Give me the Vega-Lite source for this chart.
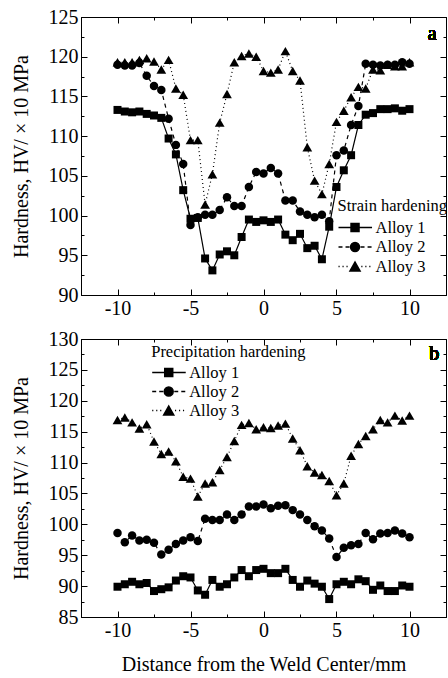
{
"$schema": "https://vega.github.io/schema/vega-lite/v6.json",
"padding": {"left": 10, "top": 6, "right": 0, "bottom": 0},
"background": "white",
"spacing": 6,
"config": {
  "font": "Liberation Serif",
  "view": {"stroke": "black", "strokeWidth": 1},
  "axis": {"domainColor": "black", "tickColor": "black", "labelColor": "black", "titleColor": "black", "labelFont": "Liberation Serif", "titleFont": "Liberation Serif", "labelFontSize": 20, "titleFontSize": 20, "titleFontWeight": "normal", "grid": false, "tickWidth": 1, "domainWidth": 1, "labelFlush": false, "labelOverlap": false},
  "legend": {"labelFont": "Liberation Serif", "titleFont": "Liberation Serif", "labelFontSize": 16.5, "titleFontSize": 16.5, "titleFontWeight": "normal", "labelColor": "black", "titleColor": "black"}
},
"resolve": {"scale": {"shape": "independent"}, "legend": {"shape": "independent"}},
"data": {"values": [
{"p":"a","s":"Alloy 1","x":-10,"y":113.3},{"p":"a","s":"Alloy 1","x":-9.5,"y":113.1},{"p":"a","s":"Alloy 1","x":-9,"y":113.0},{"p":"a","s":"Alloy 1","x":-8.5,"y":113.1},{"p":"a","s":"Alloy 1","x":-8,"y":112.8},{"p":"a","s":"Alloy 1","x":-7.5,"y":112.6},{"p":"a","s":"Alloy 1","x":-7,"y":112.3},{"p":"a","s":"Alloy 1","x":-6.5,"y":109.7},{"p":"a","s":"Alloy 1","x":-6,"y":107.7},{"p":"a","s":"Alloy 1","x":-5.5,"y":103.2},
{"p":"a","s":"Alloy 1","x":-5,"y":99.6},{"p":"a","s":"Alloy 1","x":-4.5,"y":99.7},{"p":"a","s":"Alloy 1","x":-4,"y":94.6},{"p":"a","s":"Alloy 1","x":-3.5,"y":93.1},{"p":"a","s":"Alloy 1","x":-3,"y":95.1},{"p":"a","s":"Alloy 1","x":-2.5,"y":95.5},{"p":"a","s":"Alloy 1","x":-2,"y":95.0},{"p":"a","s":"Alloy 1","x":-1.5,"y":97.3},{"p":"a","s":"Alloy 1","x":-1,"y":99.5},{"p":"a","s":"Alloy 1","x":-0.5,"y":99.2},
{"p":"a","s":"Alloy 1","x":0,"y":99.4},{"p":"a","s":"Alloy 1","x":0.5,"y":99.2},{"p":"a","s":"Alloy 1","x":1,"y":99.5},{"p":"a","s":"Alloy 1","x":1.5,"y":97.6},{"p":"a","s":"Alloy 1","x":2,"y":96.9},{"p":"a","s":"Alloy 1","x":2.5,"y":97.7},{"p":"a","s":"Alloy 1","x":3,"y":95.9},{"p":"a","s":"Alloy 1","x":3.5,"y":96.2},{"p":"a","s":"Alloy 1","x":4,"y":94.5},{"p":"a","s":"Alloy 1","x":4.5,"y":98.6},
{"p":"a","s":"Alloy 1","x":5,"y":103.6},{"p":"a","s":"Alloy 1","x":5.5,"y":105.7},{"p":"a","s":"Alloy 1","x":6,"y":107.6},{"p":"a","s":"Alloy 1","x":6.5,"y":111.4},{"p":"a","s":"Alloy 1","x":7,"y":112.7},{"p":"a","s":"Alloy 1","x":7.5,"y":112.9},{"p":"a","s":"Alloy 1","x":8,"y":113.4},{"p":"a","s":"Alloy 1","x":8.5,"y":113.4},{"p":"a","s":"Alloy 1","x":9,"y":113.5},{"p":"a","s":"Alloy 1","x":9.5,"y":113.2},{"p":"a","s":"Alloy 1","x":10,"y":113.4},
{"p":"a","s":"Alloy 2","x":-10,"y":119.0},{"p":"a","s":"Alloy 2","x":-9.5,"y":118.9},{"p":"a","s":"Alloy 2","x":-9,"y":118.9},{"p":"a","s":"Alloy 2","x":-8.5,"y":119.2},{"p":"a","s":"Alloy 2","x":-8,"y":117.6},{"p":"a","s":"Alloy 2","x":-7.5,"y":116.3},{"p":"a","s":"Alloy 2","x":-7,"y":115.8},{"p":"a","s":"Alloy 2","x":-6.5,"y":112.2},{"p":"a","s":"Alloy 2","x":-6,"y":108.9},{"p":"a","s":"Alloy 2","x":-5.5,"y":106.5},
{"p":"a","s":"Alloy 2","x":-5,"y":98.8},{"p":"a","s":"Alloy 2","x":-4.5,"y":99.8},{"p":"a","s":"Alloy 2","x":-4,"y":100.1},{"p":"a","s":"Alloy 2","x":-3.5,"y":100.1},{"p":"a","s":"Alloy 2","x":-3,"y":100.7},{"p":"a","s":"Alloy 2","x":-2.5,"y":102.3},{"p":"a","s":"Alloy 2","x":-2,"y":101.2},{"p":"a","s":"Alloy 2","x":-1.5,"y":101.2},{"p":"a","s":"Alloy 2","x":-1,"y":103.6},{"p":"a","s":"Alloy 2","x":-0.5,"y":105.5},
{"p":"a","s":"Alloy 2","x":0,"y":105.3},{"p":"a","s":"Alloy 2","x":0.5,"y":106.0},{"p":"a","s":"Alloy 2","x":1,"y":105.3},{"p":"a","s":"Alloy 2","x":1.5,"y":101.9},{"p":"a","s":"Alloy 2","x":2,"y":101.9},{"p":"a","s":"Alloy 2","x":2.5,"y":100.5},{"p":"a","s":"Alloy 2","x":3,"y":100.1},{"p":"a","s":"Alloy 2","x":3.5,"y":99.8},{"p":"a","s":"Alloy 2","x":4,"y":100.1},{"p":"a","s":"Alloy 2","x":4.5,"y":99.3},
{"p":"a","s":"Alloy 2","x":5,"y":107.6},{"p":"a","s":"Alloy 2","x":5.5,"y":108.2},{"p":"a","s":"Alloy 2","x":6,"y":111.4},{"p":"a","s":"Alloy 2","x":6.5,"y":113.8},{"p":"a","s":"Alloy 2","x":7,"y":119.1},{"p":"a","s":"Alloy 2","x":7.5,"y":119.0},{"p":"a","s":"Alloy 2","x":8,"y":118.9},{"p":"a","s":"Alloy 2","x":8.5,"y":119.0},{"p":"a","s":"Alloy 2","x":9,"y":119.0},{"p":"a","s":"Alloy 2","x":9.5,"y":119.3},{"p":"a","s":"Alloy 2","x":10,"y":119.1},
{"p":"a","s":"Alloy 3","x":-10,"y":119.3},{"p":"a","s":"Alloy 3","x":-9.5,"y":119.3},{"p":"a","s":"Alloy 3","x":-9,"y":119.3},{"p":"a","s":"Alloy 3","x":-8.5,"y":119.6},{"p":"a","s":"Alloy 3","x":-8,"y":119.8},{"p":"a","s":"Alloy 3","x":-7.5,"y":119.4},{"p":"a","s":"Alloy 3","x":-7,"y":118.4},{"p":"a","s":"Alloy 3","x":-6.5,"y":119.6},{"p":"a","s":"Alloy 3","x":-6,"y":116.0},{"p":"a","s":"Alloy 3","x":-5.5,"y":115.2},
{"p":"a","s":"Alloy 3","x":-5,"y":109.5},{"p":"a","s":"Alloy 3","x":-4.5,"y":109.5},{"p":"a","s":"Alloy 3","x":-4,"y":101.4},{"p":"a","s":"Alloy 3","x":-3.5,"y":105.2},{"p":"a","s":"Alloy 3","x":-3,"y":111.7},{"p":"a","s":"Alloy 3","x":-2.5,"y":115.3},{"p":"a","s":"Alloy 3","x":-2,"y":119.3},{"p":"a","s":"Alloy 3","x":-1.5,"y":120.1},{"p":"a","s":"Alloy 3","x":-1,"y":120.4},{"p":"a","s":"Alloy 3","x":-0.5,"y":120.0},
{"p":"a","s":"Alloy 3","x":0,"y":118.2},{"p":"a","s":"Alloy 3","x":0.5,"y":118.0},{"p":"a","s":"Alloy 3","x":1,"y":118.4},{"p":"a","s":"Alloy 3","x":1.5,"y":120.7},{"p":"a","s":"Alloy 3","x":2,"y":118.2},{"p":"a","s":"Alloy 3","x":2.5,"y":117.0},{"p":"a","s":"Alloy 3","x":3,"y":108.6},{"p":"a","s":"Alloy 3","x":3.5,"y":104.4},{"p":"a","s":"Alloy 3","x":4,"y":102.7},{"p":"a","s":"Alloy 3","x":4.5,"y":106.5},
{"p":"a","s":"Alloy 3","x":5,"y":111.8},{"p":"a","s":"Alloy 3","x":5.5,"y":113.2},{"p":"a","s":"Alloy 3","x":6,"y":114.9},{"p":"a","s":"Alloy 3","x":6.5,"y":116.2},{"p":"a","s":"Alloy 3","x":7,"y":116.0},{"p":"a","s":"Alloy 3","x":7.5,"y":118.4},{"p":"a","s":"Alloy 3","x":8,"y":118.3},{"p":"a","s":"Alloy 3","x":8.5,"y":119.0},{"p":"a","s":"Alloy 3","x":9,"y":118.8},{"p":"a","s":"Alloy 3","x":9.5,"y":118.8},{"p":"a","s":"Alloy 3","x":10,"y":119.3},
{"p":"b","s":"Alloy 1","x":-10,"y":89.9},{"p":"b","s":"Alloy 1","x":-9.5,"y":90.3},{"p":"b","s":"Alloy 1","x":-9,"y":90.7},{"p":"b","s":"Alloy 1","x":-8.5,"y":90.3},{"p":"b","s":"Alloy 1","x":-8,"y":90.5},{"p":"b","s":"Alloy 1","x":-7.5,"y":89.2},{"p":"b","s":"Alloy 1","x":-7,"y":89.5},{"p":"b","s":"Alloy 1","x":-6.5,"y":89.8},{"p":"b","s":"Alloy 1","x":-6,"y":90.9},{"p":"b","s":"Alloy 1","x":-5.5,"y":91.6},
{"p":"b","s":"Alloy 1","x":-5,"y":91.4},{"p":"b","s":"Alloy 1","x":-4.5,"y":89.3},{"p":"b","s":"Alloy 1","x":-4,"y":88.6},{"p":"b","s":"Alloy 1","x":-3.5,"y":91.0},{"p":"b","s":"Alloy 1","x":-3,"y":89.9},{"p":"b","s":"Alloy 1","x":-2.5,"y":90.3},{"p":"b","s":"Alloy 1","x":-2,"y":91.4},{"p":"b","s":"Alloy 1","x":-1.5,"y":92.6},{"p":"b","s":"Alloy 1","x":-1,"y":91.6},{"p":"b","s":"Alloy 1","x":-0.5,"y":92.6},
{"p":"b","s":"Alloy 1","x":0,"y":92.8},{"p":"b","s":"Alloy 1","x":0.5,"y":92.1},{"p":"b","s":"Alloy 1","x":1,"y":92.1},{"p":"b","s":"Alloy 1","x":1.5,"y":92.8},{"p":"b","s":"Alloy 1","x":2,"y":91.0},{"p":"b","s":"Alloy 1","x":2.5,"y":89.9},{"p":"b","s":"Alloy 1","x":3,"y":90.9},{"p":"b","s":"Alloy 1","x":3.5,"y":90.4},{"p":"b","s":"Alloy 1","x":4,"y":89.9},{"p":"b","s":"Alloy 1","x":4.5,"y":87.9},
{"p":"b","s":"Alloy 1","x":5,"y":90.3},{"p":"b","s":"Alloy 1","x":5.5,"y":90.7},{"p":"b","s":"Alloy 1","x":6,"y":90.3},{"p":"b","s":"Alloy 1","x":6.5,"y":91.1},{"p":"b","s":"Alloy 1","x":7,"y":90.8},{"p":"b","s":"Alloy 1","x":7.5,"y":89.4},{"p":"b","s":"Alloy 1","x":8,"y":90.1},{"p":"b","s":"Alloy 1","x":8.5,"y":89.2},{"p":"b","s":"Alloy 1","x":9,"y":89.2},{"p":"b","s":"Alloy 1","x":9.5,"y":90.1},{"p":"b","s":"Alloy 1","x":10,"y":89.9},
{"p":"b","s":"Alloy 2","x":-10,"y":98.6},{"p":"b","s":"Alloy 2","x":-9.5,"y":97.1},{"p":"b","s":"Alloy 2","x":-9,"y":98.2},{"p":"b","s":"Alloy 2","x":-8.5,"y":97.4},{"p":"b","s":"Alloy 2","x":-8,"y":97.5},{"p":"b","s":"Alloy 2","x":-7.5,"y":97.0},{"p":"b","s":"Alloy 2","x":-7,"y":95.1},{"p":"b","s":"Alloy 2","x":-6.5,"y":95.9},{"p":"b","s":"Alloy 2","x":-6,"y":96.8},{"p":"b","s":"Alloy 2","x":-5.5,"y":97.4},
{"p":"b","s":"Alloy 2","x":-5,"y":97.9},{"p":"b","s":"Alloy 2","x":-4.5,"y":97.3},{"p":"b","s":"Alloy 2","x":-4,"y":100.9},{"p":"b","s":"Alloy 2","x":-3.5,"y":100.7},{"p":"b","s":"Alloy 2","x":-3,"y":100.7},{"p":"b","s":"Alloy 2","x":-2.5,"y":101.6},{"p":"b","s":"Alloy 2","x":-2,"y":100.7},{"p":"b","s":"Alloy 2","x":-1.5,"y":101.6},{"p":"b","s":"Alloy 2","x":-1,"y":102.9},{"p":"b","s":"Alloy 2","x":-0.5,"y":102.9},
{"p":"b","s":"Alloy 2","x":0,"y":103.2},{"p":"b","s":"Alloy 2","x":0.5,"y":102.6},{"p":"b","s":"Alloy 2","x":1,"y":103.0},{"p":"b","s":"Alloy 2","x":1.5,"y":103.1},{"p":"b","s":"Alloy 2","x":2,"y":102.3},{"p":"b","s":"Alloy 2","x":2.5,"y":101.6},{"p":"b","s":"Alloy 2","x":3,"y":100.7},{"p":"b","s":"Alloy 2","x":3.5,"y":99.7},{"p":"b","s":"Alloy 2","x":4,"y":99.0},{"p":"b","s":"Alloy 2","x":4.5,"y":97.7},
{"p":"b","s":"Alloy 2","x":5,"y":94.7},{"p":"b","s":"Alloy 2","x":5.5,"y":96.2},{"p":"b","s":"Alloy 2","x":6,"y":96.6},{"p":"b","s":"Alloy 2","x":6.5,"y":96.8},{"p":"b","s":"Alloy 2","x":7,"y":98.6},{"p":"b","s":"Alloy 2","x":7.5,"y":97.6},{"p":"b","s":"Alloy 2","x":8,"y":98.5},{"p":"b","s":"Alloy 2","x":8.5,"y":98.6},{"p":"b","s":"Alloy 2","x":9,"y":99.0},{"p":"b","s":"Alloy 2","x":9.5,"y":98.5},{"p":"b","s":"Alloy 2","x":10,"y":97.9},
{"p":"b","s":"Alloy 3","x":-10,"y":116.9},{"p":"b","s":"Alloy 3","x":-9.5,"y":117.3},{"p":"b","s":"Alloy 3","x":-9,"y":116.5},{"p":"b","s":"Alloy 3","x":-8.5,"y":115.5},{"p":"b","s":"Alloy 3","x":-8,"y":116.2},{"p":"b","s":"Alloy 3","x":-7.5,"y":113.4},{"p":"b","s":"Alloy 3","x":-7,"y":111.4},{"p":"b","s":"Alloy 3","x":-6.5,"y":111.8},{"p":"b","s":"Alloy 3","x":-6,"y":110.2},{"p":"b","s":"Alloy 3","x":-5.5,"y":107.7},
{"p":"b","s":"Alloy 3","x":-5,"y":107.4},{"p":"b","s":"Alloy 3","x":-4.5,"y":104.5},{"p":"b","s":"Alloy 3","x":-4,"y":106.6},{"p":"b","s":"Alloy 3","x":-3.5,"y":106.8},{"p":"b","s":"Alloy 3","x":-3,"y":108.8},{"p":"b","s":"Alloy 3","x":-2.5,"y":110.9},{"p":"b","s":"Alloy 3","x":-2,"y":113.5},{"p":"b","s":"Alloy 3","x":-1.5,"y":116.1},{"p":"b","s":"Alloy 3","x":-1,"y":116.4},{"p":"b","s":"Alloy 3","x":-0.5,"y":115.4},
{"p":"b","s":"Alloy 3","x":0,"y":115.7},{"p":"b","s":"Alloy 3","x":0.5,"y":115.6},{"p":"b","s":"Alloy 3","x":1,"y":116.0},{"p":"b","s":"Alloy 3","x":1.5,"y":116.3},{"p":"b","s":"Alloy 3","x":2,"y":113.9},{"p":"b","s":"Alloy 3","x":2.5,"y":112.0},{"p":"b","s":"Alloy 3","x":3,"y":109.4},{"p":"b","s":"Alloy 3","x":3.5,"y":108.4},{"p":"b","s":"Alloy 3","x":4,"y":108.0},{"p":"b","s":"Alloy 3","x":4.5,"y":107.0},
{"p":"b","s":"Alloy 3","x":5,"y":104.7},{"p":"b","s":"Alloy 3","x":5.5,"y":106.6},{"p":"b","s":"Alloy 3","x":6,"y":111.1},{"p":"b","s":"Alloy 3","x":6.5,"y":113.0},{"p":"b","s":"Alloy 3","x":7,"y":114.3},{"p":"b","s":"Alloy 3","x":7.5,"y":115.4},{"p":"b","s":"Alloy 3","x":8,"y":116.9},{"p":"b","s":"Alloy 3","x":8.5,"y":116.5},{"p":"b","s":"Alloy 3","x":9,"y":117.6},{"p":"b","s":"Alloy 3","x":9.5,"y":116.8},{"p":"b","s":"Alloy 3","x":10,"y":117.6}
]},
"vconcat": [
{
  "width": 365, "height": 278,
  "transform": [{"filter": "datum.p === 'a'"}],
  "resolve": {"axis": {"x": "independent", "y": "independent"}},
  "layer": [
    {"transform": [{"filter": "datum.s === 'Alloy 1'"}],
     "mark": {"type": "line", "color": "black", "strokeWidth": 1.2, "point": {"shape": "square", "size": 64, "filled": true, "color": "black"}},
     "encoding": {
       "x": {"field": "x", "type": "quantitative", "scale": {"domain": [-12.5, 12.5], "nice": false, "zero": false},
             "axis": {"orient": "bottom", "title": null, "values": [-10,-7.5,-5,-2.5,0,2.5,5,7.5,10], "labelExpr": "datum.value % 5 === 0 ? '' + datum.value : ''", "tickSize": {"condition": {"test": "datum.value % 5 === 0", "value": -6}, "value": -3}, "labelPadding": 9}},
       "y": {"field": "y", "type": "quantitative", "scale": {"domain": [90, 125], "nice": false, "zero": false},
             "axis": {"orient": "left", "title": "Hardness, HV/ × 10 MPa", "titlePadding": 17, "values": [90,92.5,95,97.5,100,102.5,105,107.5,110,112.5,115,117.5,120,122.5,125], "labelExpr": "datum.value % 5 === 0 ? '' + datum.value : ''", "tickSize": {"condition": {"test": "datum.value % 5 === 0", "value": -6}, "value": -3}, "labelPadding": 9}}
     }},
    {"transform": [{"filter": "datum.s === 'Alloy 2'"}],
     "mark": {"type": "line", "color": "black", "strokeWidth": 1.2, "strokeDash": [4, 4], "point": {"shape": "circle", "size": 72, "filled": true, "color": "black"}},
     "encoding": {
       "x": {"field": "x", "type": "quantitative", "axis": {"orient": "top", "title": null, "labels": false, "values": [-10,-7.5,-5,-2.5,0,2.5,5,7.5,10], "tickSize": {"condition": {"test": "datum.value % 5 === 0", "value": -6}, "value": -3}}},
       "y": {"field": "y", "type": "quantitative", "axis": {"orient": "right", "title": null, "labels": false, "values": [90,92.5,95,97.5,100,102.5,105,107.5,110,112.5,115,117.5,120,122.5,125], "tickSize": {"condition": {"test": "datum.value % 5 === 0", "value": -6}, "value": -3}}}
     }},
    {"transform": [{"filter": "datum.s === 'Alloy 3'"}],
     "mark": {"type": "line", "color": "black", "strokeWidth": 1.2, "strokeDash": [1, 3], "point": {"shape": "triangle-up", "size": 95, "filled": true, "color": "black"}},
     "encoding": {
       "x": {"field": "x", "type": "quantitative", "axis": null},
       "y": {"field": "y", "type": "quantitative", "axis": null}
     }},
    {"mark": {"type": "point", "filled": true, "fill": "black", "stroke": "black", "strokeWidth": 1, "opacity": 0},
     "encoding": {
       "x": {"field": "x", "type": "quantitative", "axis": null},
       "y": {"field": "y", "type": "quantitative", "axis": null},
       "shape": {"field": "s", "type": "nominal",
         "scale": {"domain": ["Alloy 1", "Alloy 2", "Alloy 3"], "range": ["M-1,0H2.53M0.32,-0.42H1.16V0.42H0.32Z", "M-1,0H-0.58M-0.26,0H0.16M1.32,0H1.74M2.06,0H2.48M1.21,0A0.47,0.47 0 1 1 0.27,0A0.47,0.47 0 1 1 1.21,0Z", "M-1,0H-0.88M-0.58,0H-0.46M-0.16,0H-0.04M1.4,0H1.52M1.82,0H1.94M2.24,0H2.36M0.74,-0.47L1.27,0.47L0.21,0.47Z"]},
         "legend": {"title": "Strain hardening", "orient": "none", "legendX": 256.5, "legendY": 180.5, "symbolSize": 361, "symbolOpacity": 1, "labelOffset": 17, "rowPadding": 0.5, "titlePadding": 3, "padding": 0,
           "encode": {"symbols": {"update": {"stroke": {"value": "black"}, "strokeWidth": {"value": 1.1}, "fill": {"value": "black"}, "opacity": {"value": 1}, "strokeOpacity": {"value": 1}}}}}}
     }},
    {"mark": {"type": "text", "font": "Liberation Serif", "fontSize": 20, "color": "black", "baseline": "middle", "align": "center"},
     "encoding": {
       "x": {"datum": 11.55, "type": "quantitative", "axis": null},
       "y": {"datum": 122.9, "type": "quantitative", "axis": null},
       "text": {"value": "a"}
     }}
  ]
},
{
  "width": 365, "height": 278,
  "transform": [{"filter": "datum.p === 'b'"}],
  "resolve": {"axis": {"x": "independent", "y": "independent"}},
  "layer": [
    {"transform": [{"filter": "datum.s === 'Alloy 1'"}],
     "mark": {"type": "line", "color": "black", "strokeWidth": 1.2, "point": {"shape": "square", "size": 64, "filled": true, "color": "black"}},
     "encoding": {
       "x": {"field": "x", "type": "quantitative", "scale": {"domain": [-12.5, 12.5], "nice": false, "zero": false},
             "axis": {"orient": "bottom", "title": "Distance from the Weld Center/mm", "titlePadding": 11, "values": [-10,-7.5,-5,-2.5,0,2.5,5,7.5,10], "labelExpr": "datum.value % 5 === 0 ? '' + datum.value : ''", "tickSize": {"condition": {"test": "datum.value % 5 === 0", "value": -6}, "value": -3}, "labelPadding": 9}},
       "y": {"field": "y", "type": "quantitative", "scale": {"domain": [85, 130], "nice": false, "zero": false},
             "axis": {"orient": "left", "title": "Hardness, HV/ × 10 MPa", "titlePadding": 17, "values": [85,87.5,90,92.5,95,97.5,100,102.5,105,107.5,110,112.5,115,117.5,120,122.5,125,127.5,130], "labelExpr": "datum.value % 5 === 0 ? '' + datum.value : ''", "tickSize": {"condition": {"test": "datum.value % 5 === 0", "value": -6}, "value": -3}, "labelPadding": 9}}
     }},
    {"transform": [{"filter": "datum.s === 'Alloy 2'"}],
     "mark": {"type": "line", "color": "black", "strokeWidth": 1.2, "strokeDash": [4, 4], "point": {"shape": "circle", "size": 72, "filled": true, "color": "black"}},
     "encoding": {
       "x": {"field": "x", "type": "quantitative", "axis": {"orient": "top", "title": null, "labels": false, "values": [-10,-7.5,-5,-2.5,0,2.5,5,7.5,10], "tickSize": {"condition": {"test": "datum.value % 5 === 0", "value": -6}, "value": -3}}},
       "y": {"field": "y", "type": "quantitative", "axis": {"orient": "right", "title": null, "labels": false, "values": [85,87.5,90,92.5,95,97.5,100,102.5,105,107.5,110,112.5,115,117.5,120,122.5,125,127.5,130], "tickSize": {"condition": {"test": "datum.value % 5 === 0", "value": -6}, "value": -3}}}
     }},
    {"transform": [{"filter": "datum.s === 'Alloy 3'"}],
     "mark": {"type": "line", "color": "black", "strokeWidth": 1.2, "strokeDash": [1, 3], "point": {"shape": "triangle-up", "size": 95, "filled": true, "color": "black"}},
     "encoding": {
       "x": {"field": "x", "type": "quantitative", "axis": null},
       "y": {"field": "y", "type": "quantitative", "axis": null}
     }},
    {"mark": {"type": "point", "filled": true, "fill": "black", "stroke": "black", "strokeWidth": 1, "opacity": 0},
     "encoding": {
       "x": {"field": "x", "type": "quantitative", "axis": null},
       "y": {"field": "y", "type": "quantitative", "axis": null},
       "shape": {"field": "s", "type": "nominal",
         "scale": {"domain": ["Alloy 1", "Alloy 2", "Alloy 3"], "range": ["M-1,0H2.53M0.32,-0.42H1.16V0.42H0.32Z", "M-1,0H-0.58M-0.26,0H0.16M1.32,0H1.74M2.06,0H2.48M1.21,0A0.47,0.47 0 1 1 0.27,0A0.47,0.47 0 1 1 1.21,0Z", "M-1,0H-0.88M-0.58,0H-0.46M-0.16,0H-0.04M1.4,0H1.52M1.82,0H1.94M2.24,0H2.36M0.74,-0.47L1.27,0.47L0.21,0.47Z"]},
         "legend": {"title": "Precipitation hardening", "orient": "none", "legendX": 70.2, "legendY": 4.5, "symbolSize": 361, "symbolOpacity": 1, "labelOffset": 17, "rowPadding": 0, "titlePadding": 2, "padding": 0,
           "encode": {"symbols": {"update": {"stroke": {"value": "black"}, "strokeWidth": {"value": 1.1}, "fill": {"value": "black"}, "opacity": {"value": 1}, "strokeOpacity": {"value": 1}}}}}}
     }},
    {"mark": {"type": "text", "font": "Liberation Serif", "fontSize": 20, "color": "black", "baseline": "middle", "align": "center"},
     "encoding": {
       "x": {"datum": 11.7, "type": "quantitative", "axis": null},
       "y": {"datum": 127.5, "type": "quantitative", "axis": null},
       "text": {"value": "b"}
     }}
  ]
}
]
}
